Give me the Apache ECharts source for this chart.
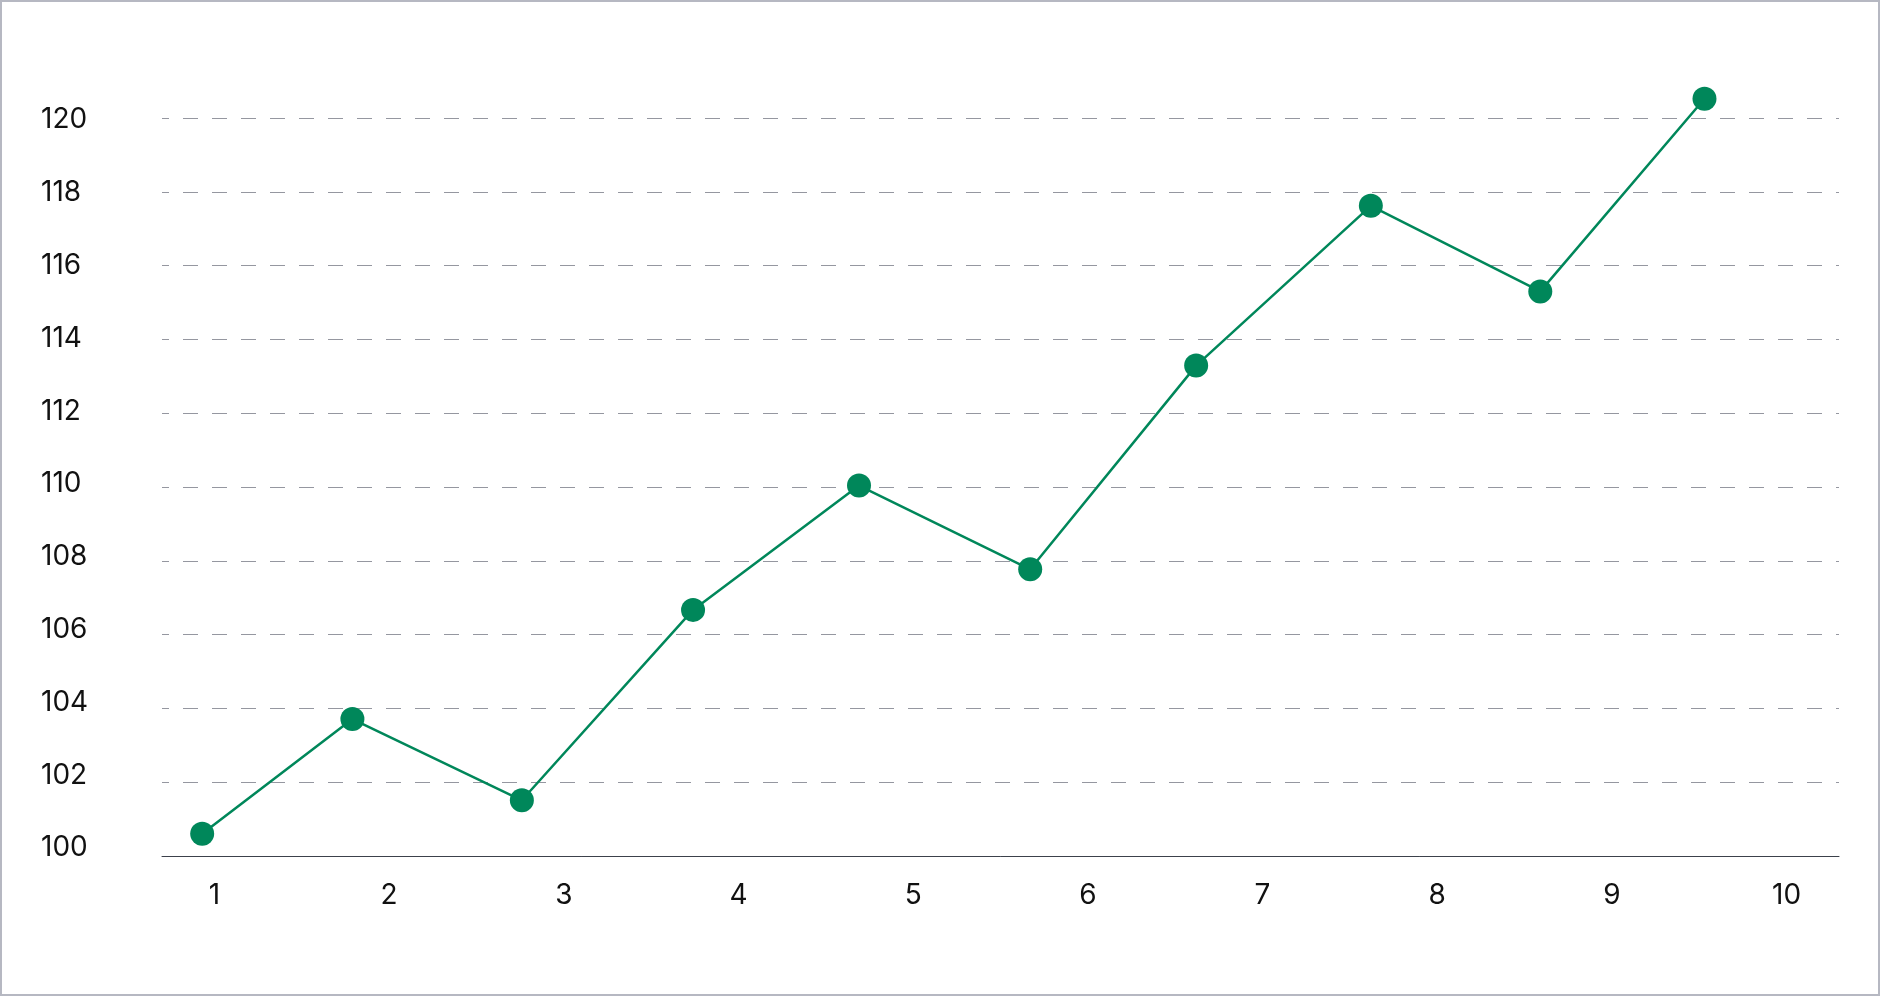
<!DOCTYPE html>
<html>
<head>
<meta charset="utf-8">
<script src="https://cdn.jsdelivr.net/npm/echarts@6/dist/echarts.min.js"></script>
<style>
  html, body { margin: 0; padding: 0; background: #ffffff; }
  #wrap { position: relative; width: 1880px; height: 996px; }
  #chart { position: absolute; left: 0; top: 0; width: 1880px; height: 996px; }
  #frame { position: absolute; left: 0; top: 0; width: 1880px; height: 996px; box-sizing: border-box; border: 2px solid #b6b8c2; pointer-events: none; }
</style>
</head>
<body>
<div id="wrap">
  <div id="chart"></div>
  <div id="frame"></div>
</div>
<script>
const xValues = [0.93, 1.79, 2.76, 3.74, 4.69, 5.67, 6.62, 7.62, 8.59, 9.53];
const yValues = [100.60, 103.71, 101.51, 106.67, 110.04, 107.77, 113.29, 117.62, 115.30, 120.52];
const xTickLabels = [1, 2, 3, 4, 5, 6, 7, 8, 9, 10];
const yTickLabels = [100, 102, 104, 106, 108, 110, 112, 114, 116, 118, 120];
const yMin = 100;
const yMax = 120;
const yStep = 2;

const chart = echarts.init(document.getElementById('chart'), null, { renderer: 'canvas' });
const seriesData = xValues.map((x, i) => [x, yValues[i]]);

const labelFont = { fontFamily: 'Inter', fontSize: 28, color: '#111111' };

chart.setOption({
  animation: false,
  backgroundColor: '#ffffff',
  grid: { left: 162, right: 41, top: 118, bottom: 140, containLabel: false },
  xAxis: {
    type: 'value',
    min: 0.7,
    max: 10.3,
    axisLine: { show: true, lineStyle: { color: '#3c414b', width: 1 } },
    axisTick: { show: false },
    splitLine: { show: false },
    axisLabel: Object.assign({
      customValues: xTickLabels,
      margin: 26,
      formatter: v => String(v)
    }, labelFont)
  },
  yAxis: [{
    type: 'value',
    min: yMin,
    max: yMax,
    interval: yStep,
    axisLine: { show: false },
    axisTick: { show: false },
    splitLine: {
      show: true,
      lineStyle: { color: '#9597a0', width: 1, type: [15, 14], dashOffset: 8 }
    },
    axisLabel: { show: false }
  }, {
    type: 'value',
    position: 'left',
    min: 99.78,
    max: 120.055,
    axisLine: { show: false },
    axisTick: { show: false },
    splitLine: { show: false },
    axisLabel: Object.assign({
      customValues: yTickLabels,
      align: 'left',
      margin: 121,
      formatter: v => String(v)
    }, labelFont)
  }],
  series: [{
    type: 'line',
    yAxisIndex: 0,
    data: seriesData,
    clip: false,
    symbol: 'circle',
    symbolSize: 24,
    showSymbol: true,
    lineStyle: { color: '#00875a', width: 2.5 },
    itemStyle: { color: '#00875a', borderWidth: 0 }
  }]
});
</script>
</body>
</html>
